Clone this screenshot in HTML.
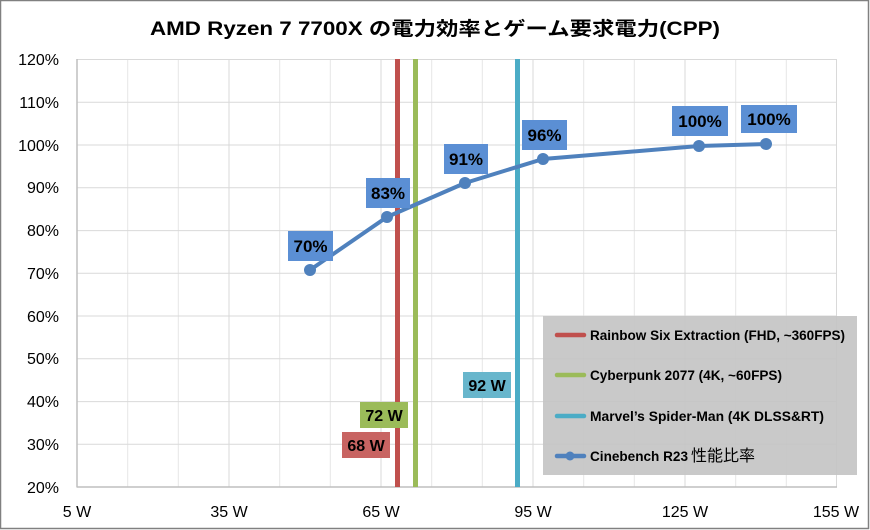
<!DOCTYPE html>
<html><head><meta charset="utf-8"><style>
html,body{margin:0;padding:0;background:#fff}
svg{display:block}
text{font-family:"Liberation Sans","Noto Sans CJK JP",sans-serif}
</style></head><body>
<svg width="870" height="530" xmlns="http://www.w3.org/2000/svg">
<rect x="0.5" y="0.5" width="868" height="528" fill="#fff" stroke="#808080" stroke-width="1.5"/>
<text x="435" y="35" text-anchor="middle" font-size="19" font-weight="bold" textLength="570" lengthAdjust="spacingAndGlyphs">AMD Ryzen 7 7700X の電力効率とゲーム要求電力(CPP)</text>
<g stroke="#e6e6e6" stroke-width="1">
<line x1="127.7" y1="59" x2="127.7" y2="487"/><line x1="178.3" y1="59" x2="178.3" y2="487"/>
<line x1="279.7" y1="59" x2="279.7" y2="487"/><line x1="330.3" y1="59" x2="330.3" y2="487"/>
<line x1="431.7" y1="59" x2="431.7" y2="487"/><line x1="482.3" y1="59" x2="482.3" y2="487"/>
<line x1="583.7" y1="59" x2="583.7" y2="487"/><line x1="634.3" y1="59" x2="634.3" y2="487"/>
<line x1="735.7" y1="59" x2="735.7" y2="487"/><line x1="786.3" y1="59" x2="786.3" y2="487"/>
</g>
<g stroke="#d9d9d9" stroke-width="1">
<line x1="229" y1="59" x2="229" y2="487"/><line x1="381" y1="59" x2="381" y2="487"/>
<line x1="533" y1="59" x2="533" y2="487"/><line x1="685" y1="59" x2="685" y2="487"/>
<line x1="836.5" y1="59" x2="836.5" y2="487"/>
<line x1="77" y1="59.5" x2="837" y2="59.5"/><line x1="77" y1="102.3" x2="837" y2="102.3"/>
<line x1="77" y1="145" x2="837" y2="145"/><line x1="77" y1="187.8" x2="837" y2="187.8"/>
<line x1="77" y1="230.6" x2="837" y2="230.6"/><line x1="77" y1="273.3" x2="837" y2="273.3"/>
<line x1="77" y1="316" x2="837" y2="316"/><line x1="77" y1="358.8" x2="837" y2="358.8"/>
<line x1="77" y1="401.6" x2="837" y2="401.6"/><line x1="77" y1="444.3" x2="837" y2="444.3"/>
</g>
<line x1="77" y1="59" x2="77" y2="487.5" stroke="#bfbfbf" stroke-width="1.5"/>
<line x1="77" y1="487" x2="837" y2="487" stroke="#bfbfbf" stroke-width="1.5"/>
<g font-size="16" text-anchor="end" fill="#000">
<text x="59" y="65">120%</text><text x="59" y="108">110%</text><text x="59" y="151">100%</text>
<text x="59" y="193">90%</text><text x="59" y="236">80%</text><text x="59" y="279">70%</text>
<text x="59" y="322">60%</text><text x="59" y="364">50%</text><text x="59" y="407">40%</text>
<text x="59" y="450">30%</text><text x="59" y="493">20%</text>
</g>
<g font-size="16" text-anchor="middle" fill="#000">
<text x="77" y="517">5 W</text><text x="229" y="517">35 W</text><text x="381" y="517">65 W</text>
<text x="533" y="517">95 W</text><text x="685" y="517">125 W</text><text x="836" y="517">155 W</text>
</g>
<line x1="397.5" y1="59" x2="397.5" y2="487" stroke="#c0504d" stroke-width="5"/>
<line x1="415.5" y1="59" x2="415.5" y2="487" stroke="#9bbb59" stroke-width="5"/>
<line x1="517.5" y1="59" x2="517.5" y2="487" stroke="#4bacc6" stroke-width="5"/>
<g font-size="16" font-weight="bold" text-anchor="middle" fill="#000">
<rect x="463" y="372" width="48" height="26" fill="#68b6cc"/><text x="487" y="391">92 W</text>
<rect x="360" y="402" width="48" height="26" fill="#9bbb59"/><text x="384" y="421">72 W</text>
<rect x="342" y="432" width="48" height="26" fill="#c86462"/><text x="366" y="451">68 W</text>
</g>
<polyline points="310,270 387,217 465,183 543,159 699,146 766,144" fill="none" stroke="#4f81bd" stroke-width="4" stroke-linejoin="round"/>
<g fill="#4f81bd">
<circle cx="310" cy="270" r="6"/><circle cx="387" cy="217" r="6"/><circle cx="465" cy="183" r="6"/>
<circle cx="543" cy="159" r="6"/><circle cx="699" cy="146" r="6"/><circle cx="766" cy="144" r="6"/>
</g>
<g font-size="17" font-weight="bold" text-anchor="middle" fill="#000">
<rect x="288" y="231" width="45" height="30" fill="#5b8fd4"/><text x="310.5" y="252">70%</text>
<rect x="366" y="178" width="44" height="30" fill="#5b8fd4"/><text x="388" y="199">83%</text>
<rect x="444" y="144" width="44" height="30" fill="#5b8fd4"/><text x="466" y="165">91%</text>
<rect x="522" y="120" width="45" height="30" fill="#5b8fd4"/><text x="544.5" y="141">96%</text>
<rect x="672" y="106" width="56" height="30" fill="#5b8fd4"/><text x="700" y="127">100%</text>
<rect x="741" y="105" width="56" height="28" fill="#5b8fd4"/><text x="769" y="125">100%</text>
</g>
<rect x="543" y="316" width="314" height="159" fill="#c4c4c4" fill-opacity="0.92"/>
<g stroke-width="4.5" stroke-linecap="round">
<line x1="557" y1="335" x2="584" y2="335" stroke="#c0504d"/>
<line x1="557" y1="375" x2="584" y2="375" stroke="#9bbb59"/>
<line x1="557" y1="416" x2="584" y2="416" stroke="#4bacc6"/>
<line x1="557" y1="456" x2="584" y2="456" stroke="#4f81bd"/>
</g>
<circle cx="570" cy="456" r="4.5" fill="#4f81bd"/>
<g font-size="13.5" font-weight="bold" fill="#000">
<text x="590" y="340" textLength="255" lengthAdjust="spacingAndGlyphs">Rainbow Six Extraction (FHD, ~360FPS)</text>
<text x="590" y="380" textLength="192" lengthAdjust="spacingAndGlyphs">Cyberpunk 2077 (4K, ~60FPS)</text>
<text x="590" y="421" textLength="234" lengthAdjust="spacingAndGlyphs">Marvel’s Spider-Man (4K DLSS&amp;RT)</text>
<text x="590" y="461"><tspan textLength="98" lengthAdjust="spacingAndGlyphs">Cinebench R23</tspan><tspan font-weight="normal" font-size="16" dx="3">性能比率</tspan></text>
</g>
</svg>
</body></html>
